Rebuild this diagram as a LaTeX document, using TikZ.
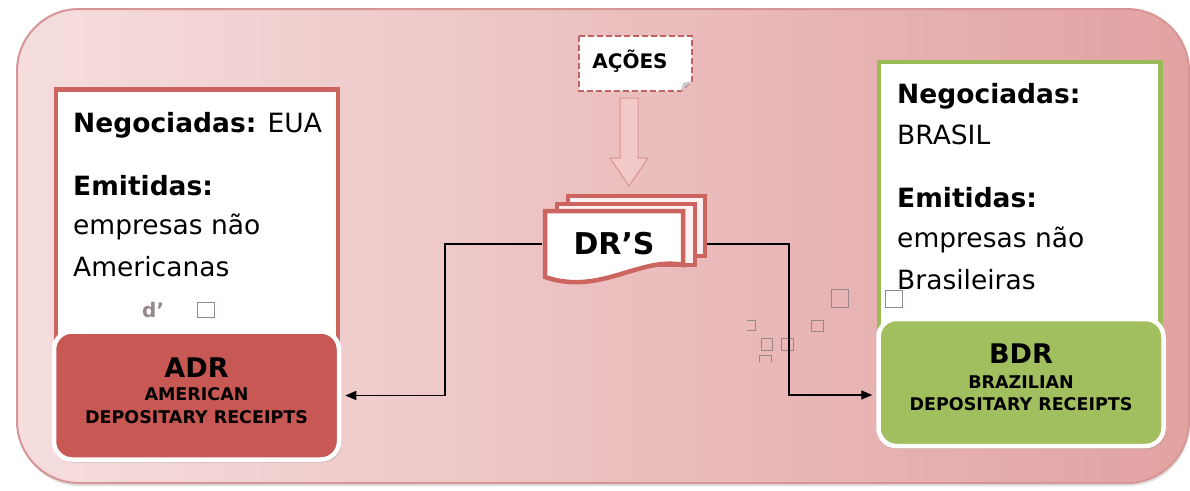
\documentclass[tikz,border=0pt]{standalone}
\usepackage{fontspec}
\setmainfont{DejaVu Sans}
\usetikzlibrary{arrows.meta,positioning,shadows}

\definecolor{frameL}{RGB}{246,222,222}
\definecolor{frameR}{RGB}{226,162,162}
\definecolor{frameline}{RGB}{214,150,150}
\definecolor{redline}{RGB}{204,100,96}
\definecolor{dashred}{RGB}{190,100,100}
\definecolor{adrred}{RGB}{199,88,84}
\definecolor{greenline}{RGB}{155,187,89}
\definecolor{bdrgreen}{RGB}{162,191,95}
\definecolor{pageback}{RGB}{252,240,240}
\definecolor{arrowfill}{RGB}{242,200,200}
\definecolor{arrowline}{RGB}{216,148,148}
\definecolor{ghostgray}{RGB}{150,136,136}

\begin{document}
\begin{tikzpicture}[x=1pt, y=-1pt,
  body/.style={anchor=base west, inner sep=0pt, font=\fontsize{26.5}{30}\selectfont},
  drbox/.style={rounded corners=18pt, draw=white, line width=4.5pt, minimum width=285pt, minimum height=128pt,
    drop shadow={shadow xshift=2pt, shadow yshift=-3pt, opacity=.3}},
  drtitle/.style={anchor=base, inner sep=0pt, font=\bfseries\fontsize{27}{30}\selectfont},
  drsub/.style={anchor=base, inner sep=0pt, font=\bfseries\fontsize{17.5}{20}\selectfont},
  page/.style={draw=redline, fill=pageback, line width=4pt, inner sep=0pt},
  link/.style={draw=black, line width=1.4pt, -{Triangle[length=11pt, width=9pt]}, shorten >=4pt},
  ghost/.style={draw=ghostgray, line width=0.9pt}
]
\useasboundingbox (0,0) rectangle (1190,490);

% background frame
\path[draw=frameline, line width=2pt, rounded corners=62pt, left color=frameL, right color=frameR,
  drop shadow={shadow xshift=1pt, shadow yshift=-3pt, opacity=.25}] (17,9) rectangle (1189,483);

% info boxes
\node[draw=redline, fill=white, line width=4.5pt, minimum width=282pt, minimum height=250pt] (usa) at (196.8,214.3) {};
\node[draw=greenline, fill=white, line width=4.5pt, minimum width=281.5pt, minimum height=265pt] (bra) at (1019.9,194.7) {};

\node[body] (usaneg) at (73,132) {\textbf{Negociadas:} EUA};
\node[body] (usaemi) at (73,195) {\textbf{Emitidas:}};
\node[body] (usaemp) at (73,234) {empresas não};
\node[body] (usaame) at (73,276) {Americanas};

\node[body] (braneg) at (897,103) {\textbf{Negociadas:}};
\node[body] (brapais) at (897,144) {BRASIL};
\node[body] (braemi) at (897,207) {\textbf{Emitidas:}};
\node[body] (braemp) at (897,247) {empresas não};
\node[body] (brabra) at (897,289) {Brasileiras};

% stray glyphs
\node[body, font=\bfseries\fontsize{20}{20}\selectfont, text=ghostgray] (usad) at (142,317) {d’};
\draw[ghost] (197,302) rectangle (214,317);
\draw[ghost] (831,289) rectangle (848,307);
\draw[ghost] (885,290) rectangle (902,307);
\draw[ghost] (811,320) rectangle (823,331);
\draw[ghost] (747,320) -- (755,320) -- (755,330) -- (747,330);
\draw[ghost] (761,338) rectangle (772,350);
\draw[ghost] (781,338) rectangle (793,350);
\draw[ghost] (759,362) -- (759,355) -- (771,355) -- (771,362);

% receipts
\node[drbox, fill=adrred] (adr) at (196.5,395.5) {};
\node[drbox, fill=bdrgreen, minimum height=127pt] (bdr) at (1021,382.5) {};
\node[drtitle] (adrt) at ([yshift=18.5pt]adr.center) {ADR};
\node[drsub] (adra) at ([yshift=-4.5pt]adr.center) {AMERICAN};
\node[drsub] (adrd) at ([yshift=-27.5pt]adr.center) {DEPOSITARY RECEIPTS};
\node[drtitle] (bdrt) at ([yshift=19.5pt]bdr.center) {BDR};
\node[drsub] (bdra) at ([yshift=-5.5pt]bdr.center) {BRAZILIAN};
\node[drsub] (bdrd) at ([yshift=-27.5pt]bdr.center) {DEPOSITARY RECEIPTS};

% acoes
\draw[dash pattern=on 6pt off 3pt, draw=dashred, line width=1.6pt, fill=white]
  (579,36) -- (692,36) -- (692,81) -- (681,91) -- (579,91) -- cycle;
\fill[black!22] (692,81) -- (683,83) -- (681,91) -- cycle;
\node[inner sep=0pt, anchor=base, font=\bfseries\fontsize{20}{20}\selectfont] (acoes) at (630,68) {AÇÕES};

\draw[fill=arrowfill, draw=arrowline, line width=1pt]
  (620,98) -- (638,98) -- (638,158) -- (648,158) -- (629,186) -- (610,158) -- (620,158) -- cycle;

% DR's stack
\node[page, minimum width=137pt, minimum height=60pt] (drsC) at (636.5,226) {};
\node[page, minimum width=138pt, minimum height=61pt] (drsB) at (626,234.5) {};
\draw[draw=redline, fill=white, line width=4.5pt]
  (545,211) -- (683,211) -- (683,265) .. controls (640,256) and (600,296) .. (545,277) -- cycle;
\node[inner sep=0pt, minimum width=138pt, minimum height=66pt, font=\bfseries\fontsize{30}{30}\selectfont] (drs) at (614,244) {DR’S};

\draw[link, shorten <=2.5pt] (drs.west) -- ++(-100,0) |- (adr.east);
\draw[link] (drsC.east |- drs.center) -- ++(82,0) |- ([yshift=-12.5pt]bdr.west);
\end{tikzpicture}
\end{document}
